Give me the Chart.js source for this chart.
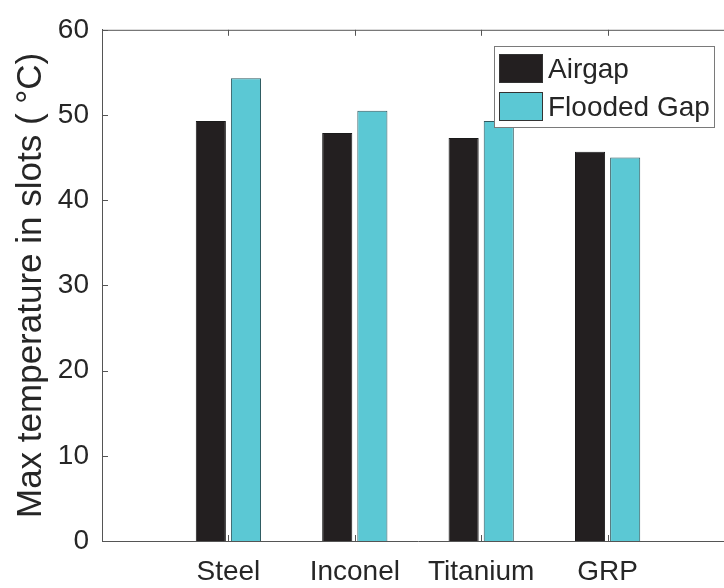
<!DOCTYPE html>
<html>
<head>
<meta charset="utf-8">
<script src="https://cdn.jsdelivr.net/npm/chart.js@4.4.0/dist/chart.umd.min.js"></script>
<style>
  html, body { margin: 0; padding: 0; background: #fff; overflow: hidden; }
  #wrap { position: relative; width: 748px; height: 588px; }
</style>
</head>
<body>
<div id="wrap">
  <canvas id="grafico" width="748" height="588"></canvas>
</div>
<script>
// Datos
const materiales = ['', 'Steel', 'Inconel', 'Titanium', 'GRP', ''];
const airgap  = [null, 49.3, 47.9, 47.3, 45.7, null];
const flooded = [null, 54.3, 50.5, 49.3, 45.0, null];
const ticksY  = [0, 10, 20, 30, 40, 50, 60];

const fuente = '"Liberation Sans", Arial, sans-serif';
const colorTexto = '#262626';
const colorEje = '#555';

// Marco tipo MATLAB: linea superior y marcas hacia adentro
const marco = {
    id: 'marco',
    afterDraw(chart) {
        const { ctx, chartArea: a, scales: { x, y } } = chart;
        ctx.save();
        ctx.strokeStyle = colorEje;
        ctx.lineWidth = 1;
        ctx.beginPath();
        ctx.moveTo(a.left, a.top + 0.5);
        ctx.lineTo(a.right, a.top + 0.5);
        y.ticks.forEach(t => {
            const py = Math.round(y.getPixelForValue(t.value)) + 0.5;
            ctx.moveTo(a.left, py); ctx.lineTo(a.left + 6, py);
        });
        materiales.forEach((m, i) => {
            if (!m) return;
            const px = Math.round(x.getPixelForValue(i)) + 0.5;
            ctx.moveTo(px, a.bottom); ctx.lineTo(px, a.bottom - 6);
            ctx.moveTo(px, a.top); ctx.lineTo(px, a.top + 6);
        });
        ctx.stroke();
        ctx.restore();
    }
};

// Leyenda dentro del area, apilada como en MATLAB
const leyenda = {
    id: 'leyenda',
    afterDraw(chart) {
        const ctx = chart.ctx;
        ctx.save();
        ctx.fillStyle = '#fff';
        ctx.fillRect(494, 46, 221, 82);
        ctx.strokeStyle = '#7a7a7a';
        ctx.lineWidth = 1;
        ctx.strokeRect(494.5, 46.5, 220, 81);
        ctx.font = '28px ' + fuente;
        ctx.textBaseline = 'middle';
        chart.data.datasets.forEach((ds, i) => {
            const y0 = 54 + i * 38;
            ctx.fillStyle = ds.backgroundColor;
            ctx.fillRect(499, y0, 44, 29);
            ctx.strokeStyle = '#333';
            ctx.strokeRect(499.5, y0 + 0.5, 43, 28);
            ctx.fillStyle = colorTexto;
            ctx.fillText(ds.label, 548, y0 + 16);
        });
        ctx.restore();
    }
};

new Chart(document.getElementById('grafico'), {
    type: 'bar',
    data: {
        labels: materiales,
        datasets: [
            { label: 'Airgap', data: airgap, backgroundColor: '#231f20',
              borderColor: '#1a1a1a', borderWidth: 1 },
            { label: 'Flooded Gap', data: flooded, backgroundColor: '#5bc8d4',
              borderColor: '#2f5a60', borderWidth: 1 }
        ]
    },
    options: {
        responsive: false,
        animation: false,
        devicePixelRatio: 1,
        categoryPercentage: 0.556,
        barPercentage: 0.857,
        layout: { padding: { top: 24, right: 10, left: 0, bottom: 0 } },
        plugins: { legend: { display: false }, tooltip: { enabled: false } },
        scales: {
            x: {
                offset: false,
                grid: { display: false, drawTicks: false },
                border: { display: true, color: colorEje, width: 1 },
                ticks: { font: { family: fuente, size: 28 }, color: colorTexto,
                         padding: 14, maxRotation: 0, autoSkip: false },
                afterFit: s => { s.height = 47; }
            },
            y: {
                min: 0,
                max: 60,
                grid: { display: false, drawTicks: false },
                border: { display: true, color: colorEje, width: 1 },
                ticks: { font: { family: fuente, size: 28 }, color: colorTexto, padding: 13 },
                afterBuildTicks: s => { s.ticks = ticksY.map(v => ({ value: v })); },
                title: { display: true, text: 'Max temperature in slots ( °C)',
                         font: { family: fuente, size: 35 }, color: colorTexto,
                         padding: { top: 10, bottom: 0 } },
                afterFit: s => { s.width = 102; }
            }
        }
    },
    plugins: [marco, leyenda]
});
</script>
</body>
</html>
